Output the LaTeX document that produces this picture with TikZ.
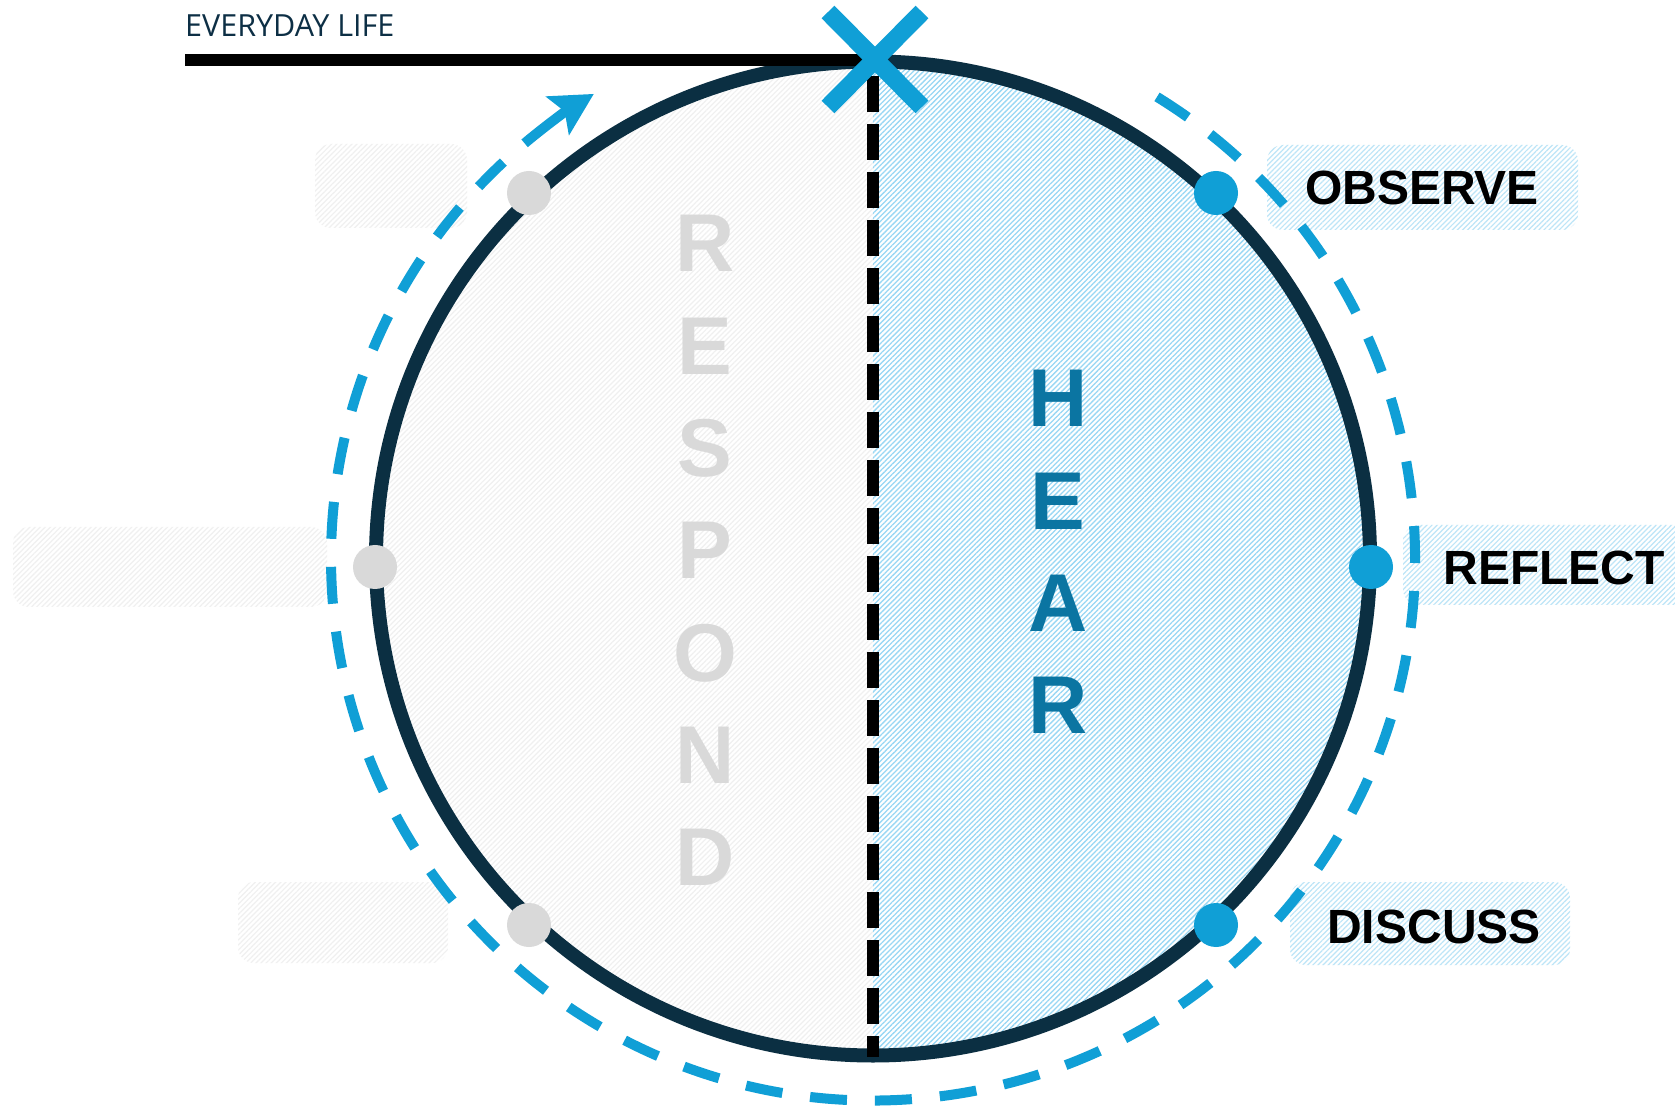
\documentclass[tikz,border=0pt]{standalone}
\usepackage{fontspec}
\setmainfont{Liberation Sans}
\newfontfamily\osans{Open Sans}
\usetikzlibrary{patterns.meta,arrows.meta}
\definecolor{navy}{HTML}{0B2F42}
\definecolor{blueA}{HTML}{109FD6}
\definecolor{hearblue}{HTML}{0B75A2}
\definecolor{grayA}{HTML}{D9D9D9}
\definecolor{hatchblue}{HTML}{98D7F4}
\definecolor{boxblue}{HTML}{BDE5F7}
\definecolor{hatchgray}{HTML}{F0F0F0}
\definecolor{lifetext}{HTML}{0D2F45}
\tikzset{
  bluehatch/.style={pattern={Lines[angle=45,distance=3.6pt,line width=1.3pt]},pattern color=hatchblue},
  boxhatch/.style={pattern={Lines[angle=45,distance=3.6pt,line width=1.2pt]},pattern color=boxblue,rounded corners=16pt},
  grayhatch/.style={pattern={Lines[angle=45,distance=3.6pt,line width=1.2pt]},pattern color=hatchgray},
  grayboxhatch/.style={grayhatch,rounded corners=16pt},
  labeltext/.style={font=\bfseries\fontsize{48}{50}\selectfont,anchor=base,inner sep=0pt,text=black},
  bigletter/.style={font=\bfseries\fontsize{82}{84}\selectfont,anchor=base,inner sep=0pt},
  bluedot/.style={circle,fill=blueA,minimum size=44pt,inner sep=0pt},
  graydot/.style={circle,fill=grayA,minimum size=44pt,inner sep=0pt}
}
\begin{document}
\begin{tikzpicture}[x=1pt,y=1pt]
\useasboundingbox (0,0) rectangle (1675,1112);
\fill[white] (0,0) rectangle (1675,1112);
\coordinate (C) at (873,553.5);
% half fills
\path[grayhatch] (C) ++(90:497) arc[start angle=90,end angle=270,radius=497] -- cycle;
\path[bluehatch] (C) ++(90:497) arc[start angle=90,end angle=-90,radius=497] -- cycle;
% label boxes
\path[boxhatch] (1267,882) rectangle (1578,967);
\path[boxhatch] (1403,507) rectangle (1700,587);
\path[boxhatch] (1290,147) rectangle (1570,230);
\path[grayboxhatch] (315,884) rectangle (467,968);
\path[grayboxhatch] (13,505) rectangle (327,585);
\path[grayboxhatch] (238,149) rectangle (448,230);
% letters
\foreach \l [count=\i from 0] in {R,E,S,P,O,N,D}
  \node[bigletter,text=grayA] (resp\i) at (705,{840-102.3*\i}) {\l};
\foreach \l [count=\i from 0] in {H,E,A,R}
  \node[bigletter,text=hearblue] (hear\i) at (1058,{685-102.3*\i}) {\l};
% labels
\node[labeltext] (observe) at (1422,907) {OBSERVE};
\node[labeltext] (reflect) at (1554,527) {REFLECT};
\node[labeltext] (discuss) at (1434,169) {DISCUSS};
% outer dashed arc and arrow
\draw[blueA,line width=10pt,dash pattern=on 37pt off 28pt] (C) ++(58.4:542) arc[start angle=58.4,end angle=-227,radius=542];
\draw[blueA,line width=10pt,-{Stealth[length=42pt,width=44pt,inset=8pt]}] (C) ++(130:542) arc[start angle=130,end angle=121,radius=542];
% main circle
\draw[navy,line width=14pt] (C) circle[radius=497];
% vertical dashed divider
\coordinate (vtop) at (873,1036);
\coordinate (vbot) at (873,55);
\draw[black,line width=12pt,dash pattern=on 36pt off 12pt] (vtop) -- (vbot);
% everyday life line
\coordinate (lifeL) at (185,1052);
\coordinate (lifeR) at (873,1052);
\draw[black,line width=12pt] (lifeL) -- (lifeR);
\node[anchor=base west,inner sep=0pt,text=lifetext,font=\osans\fontsize{30.5}{32}\selectfont] (life) at (185,1075) {EVERYDAY LIFE};
% X mark
\draw[blueA,line width=18pt] (828,1100) -- (922,1005);
\draw[blueA,line width=18pt] (922,1100) -- (828,1005);
% dots
\node[bluedot] (d1) at (1216,919) {};
\node[bluedot] (d2) at (1371,545) {};
\node[bluedot] (d3) at (1216,187) {};
\node[graydot] (g1) at (529,919) {};
\node[graydot] (g2) at (375,545) {};
\node[graydot] (g3) at (529,187) {};
\end{tikzpicture}
\end{document}
